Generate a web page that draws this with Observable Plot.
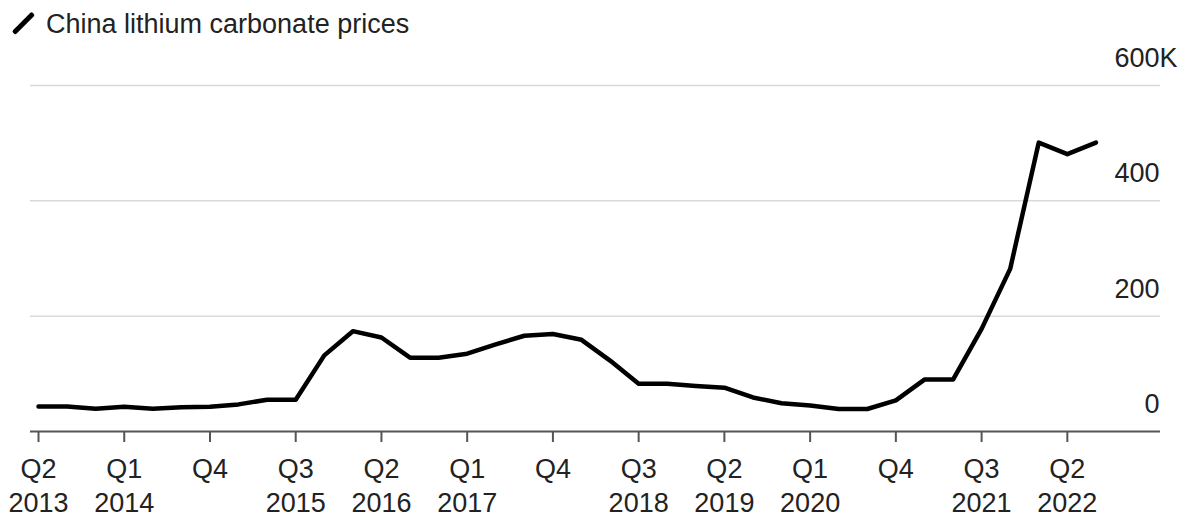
<!DOCTYPE html>
<html>
<head>
<meta charset="utf-8">
<script src="https://cdn.jsdelivr.net/npm/d3@7"></script>
<script src="https://cdn.jsdelivr.net/npm/@observablehq/plot@0.6"></script>
<style>
  html, body { margin: 0; padding: 0; background: #fff; }
  #title { position: relative; height: 50px; font-family: "Liberation Sans", Arial, sans-serif; font-size: 27px; color: #222; }
  #title .swatch { position: absolute; left: 21px; top: 9px; width: 4.5px; height: 28px; background: #000; border-radius: 2px; transform: rotate(45deg); }
  #title .txt { position: absolute; left: 46px; top: 9px; line-height: 30px; white-space: nowrap; }
  #chart svg { display: block; overflow: visible; }
</style>
</head>
<body>
<div id="title"><span class="swatch"></span><span class="txt">China lithium carbonate prices</span></div>
<div id="chart"></div>
<script>
const quarters = [
  "Q2 2013","Q3 2013","Q4 2013",
  "Q1 2014","Q2 2014","Q3 2014","Q4 2014",
  "Q1 2015","Q2 2015","Q3 2015","Q4 2015",
  "Q1 2016","Q2 2016","Q3 2016","Q4 2016",
  "Q1 2017","Q2 2017","Q3 2017","Q4 2017",
  "Q1 2018","Q2 2018","Q3 2018","Q4 2018",
  "Q1 2019","Q2 2019","Q3 2019","Q4 2019",
  "Q1 2020","Q2 2020","Q3 2020","Q4 2020",
  "Q1 2021","Q2 2021","Q3 2021","Q4 2021",
  "Q1 2022","Q2 2022","Q3 2022"
];
// Price, thousand yuan per tonne
const prices = [
  43.5, 43.5, 39.5,
  43, 39.5, 42, 43,
  47, 55, 55, 132,
  174, 163, 128, 128,
  135, 151, 166, 169,
  159, 123, 83, 83,
  79, 76, 59, 49,
  45, 39, 39, 54,
  90, 90, 178, 282,
  501, 481, 501
];
const tickQuarters = ["Q2 2013","Q1 2014","Q4 2014","Q3 2015","Q2 2016","Q1 2017","Q4 2017","Q3 2018","Q2 2019","Q1 2020","Q4 2020","Q3 2021","Q2 2022"];
const tickLabels = ["Q2\n2013","Q1\n2014","Q4","Q3\n2015","Q2\n2016","Q1\n2017","Q4","Q3\n2018","Q2\n2019","Q1\n2020","Q4","Q3\n2021","Q2\n2022"];
const yTicks = [0, 200, 400, 600];
const gridValues = [200, 400, 600];

const data = quarters.map((q, i) => ({i, q, price: prices[i]}));
const tickIdx = tickQuarters.map(q => quarters.indexOf(q));

const chart = Plot.plot({
  width: 1189,
  height: 468,
  marginLeft: 30,
  marginRight: 29,
  marginTop: 35,
  marginBottom: 87,
  x: {type: "linear", domain: [-0.28, 39.26], label: null},
  y: {domain: [0, 600], axis: null},
  style: {fontFamily: "Liberation Sans, Arial, sans-serif", fontSize: "27px", color: "#222", background: "white"},
  marks: [
    Plot.ruleY(gridValues, {stroke: "#d9d9d9", strokeWidth: 1.5}),
    Plot.ruleY([0], {stroke: "#555", strokeWidth: 2}),
    Plot.axisX({
      ticks: tickIdx,
      tickFormat: d => tickLabels[tickIdx.indexOf(d)],
      label: null,
      tickSize: 11,
      tickPadding: 12,
      stroke: "#555",
      strokeWidth: 2,
      lineHeight: 1.25,
      fontSize: 27,
      fill: "#222"
    }),
    Plot.text(yTicks, {y: d => d, text: d => String(d), frameAnchor: "right", textAnchor: "end", dx: -1, dy: -27, fontSize: 27, fill: "#222"}),
    Plot.text([600], {y: d => d, text: () => "K", frameAnchor: "right", textAnchor: "start", dx: -1, dy: -27, fontSize: 27, fill: "#222"}),
    Plot.line(data, {x: "i", y: "price", stroke: "#000", strokeWidth: 4.5, strokeLinejoin: "round"})
  ]
});
document.getElementById("chart").appendChild(chart);
</script>
</body>
</html>
